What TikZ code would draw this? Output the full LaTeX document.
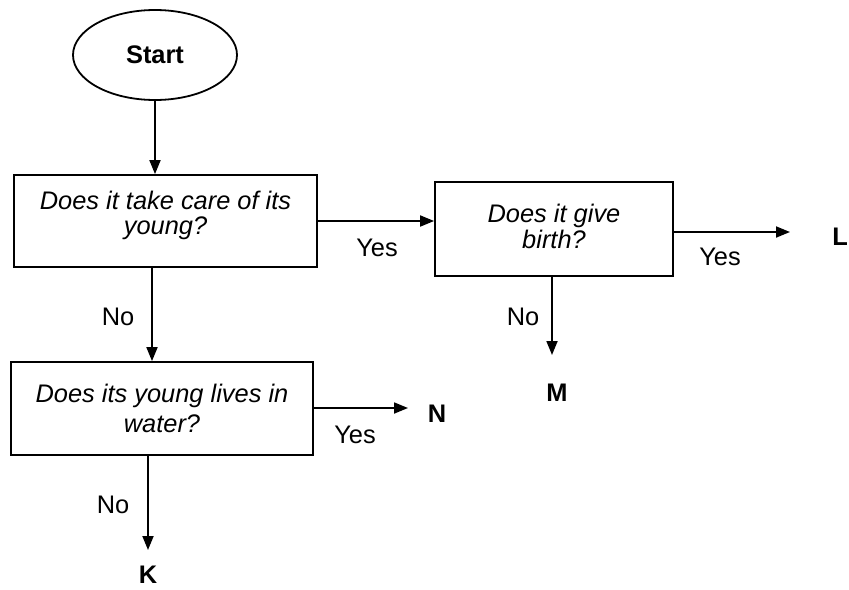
\documentclass[tikz,border=0pt]{standalone}
\usepackage{fontspec}
\setmainfont{Liberation Sans}
\usetikzlibrary{arrows.meta,shapes.geometric}
\newcommand{\lowpad}[1]{\rule[-#1]{0pt}{0pt}}
\begin{document}
\begin{tikzpicture}[x=0.5pt,y=-0.5pt,
  font=\fontsize{12.7}{12}\selectfont,
  box/.style={draw, line width=0.9pt, align=center, inner sep=0pt, font=\fontsize{12.7}{12}\selectfont\itshape},
  arr/.style={line width=0.9pt, -{Triangle[length=7pt,width=5.5pt]}},
  lbl/.style={inner sep=0pt},
  term/.style={inner sep=0pt, font=\fontsize{12.7}{12}\selectfont\bfseries}]
\useasboundingbox (0,0) rectangle (849,589);
% nodes
\node[draw, ellipse, line width=0.9pt, minimum width=82pt, minimum height=45pt, inner sep=0pt,
      font=\fontsize{12.7}{12}\selectfont\bfseries] (start) at (155,55) {Start};
\node[box, minimum width=151.5pt, minimum height=46pt] (q1) at (165.5,221) {Does it take care of its\\[0.5pt]young?\lowpad{8pt}};
\node[box, minimum width=119pt, minimum height=47pt] (q2) at (554,229) {Does it give\\[0.8pt]birth?\lowpad{3pt}};
\node[box, minimum width=151pt, minimum height=46.5pt] (q3) at (162,408.5) {Does its young lives in\\[3pt]water?};
% terminal letters
\node[term] (L) at (840,237) {L};
\node[term] (M) at (557,393) {M};
\node[term] (N) at (437,414) {N};
\node[term] (K) at (148,575) {K};
% free arrow ends
\coordinate (Lend) at (790,232);
\coordinate (Mend) at (552,355);
\coordinate (Nend) at (408,408);
\coordinate (Kend) at (148,550);
% connectors
\draw[arr] (start.south) -- (start.south |- q1.north);
\draw[arr] (q1.east) -- (q1.east -| q2.west);
\draw[arr] (q2.east |- Lend) -- (Lend);
\draw[arr] (Mend |- q2.south) -- (Mend);
\draw[arr] ([xshift=-6.75pt]q1.south) -- ([xshift=-6.75pt]q1.south |- q3.north);
\draw[arr] (q3.east |- Nend) -- (Nend);
\draw[arr] (Kend |- q3.south) -- (Kend);
% labels
\node[lbl] (y1) at (377,248) {Yes};
\node[lbl] (y2) at (720,257) {Yes};
\node[lbl] (n2) at (523,317) {No};
\node[lbl] (n1) at (118,317) {No};
\node[lbl] (y3) at (355,435) {Yes};
\node[lbl] (n3) at (113,505) {No};
\end{tikzpicture}
\end{document}
